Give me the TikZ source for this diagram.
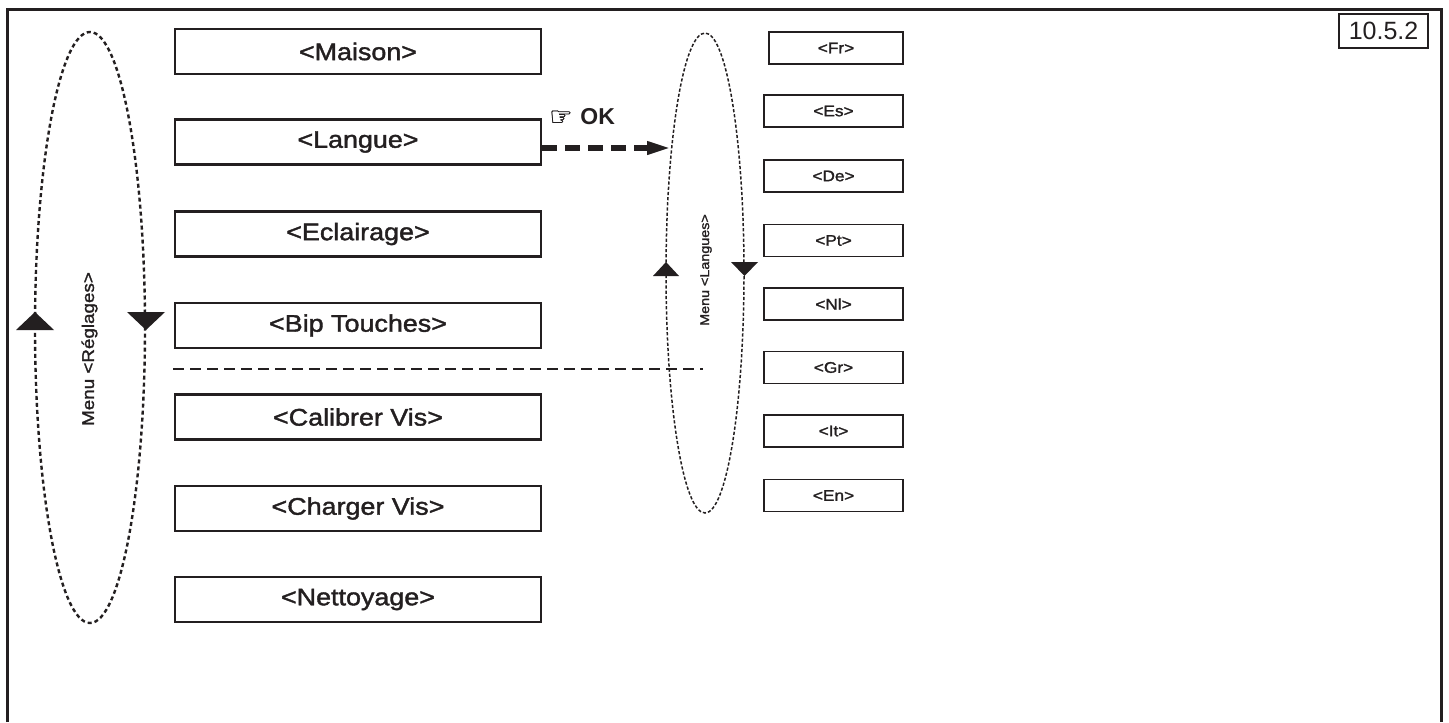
\documentclass[tikz,border=0pt]{standalone}
\usepackage{fontspec}
\setmainfont{Liberation Sans}[FakeStretch=1.12,FakeBold=1.6]
\newfontfamily\plainfont{Liberation Sans}
\newfontfamily\symfont{DejaVu Sans}[FakeBold=1]
\usetikzlibrary{shapes.geometric,arrows.meta}
\definecolor{ink}{HTML}{231F20}
\begin{document}
\begin{tikzpicture}[x=0.5pt,y=-0.5pt,
  every node/.style={text=ink},
  menubox/.style={draw=ink, line width=1.15pt, minimum width=183pt, minimum height=22.5pt, inner sep=0pt, font=\fontsize{12}{14}\selectfont},
  langbox/.style={draw=ink, line width=0.8pt, minimum width=69.5pt, minimum height=16pt, inner sep=0pt, font=\fontsize{7.7}{9}\selectfont},
  bigloop/.style={draw=ink, ellipse, line width=1.2pt, dash pattern=on 2pt off 1.5pt, inner sep=0pt},
  smallloop/.style={draw=ink, ellipse, line width=0.75pt, dash pattern=on 1.6pt off 1pt, inner sep=0pt},
  sepline/.style={draw=ink, line width=1pt, dash pattern=on 5.5pt off 3pt},
  okarrow/.style={draw=ink, line width=3pt, dash pattern=on 7.5pt off 4pt, -{Triangle[length=12.5pt,width=6pt]}}
]
\useasboundingbox (0,0) rectangle (1449,722);
\fill[white] (0,0) rectangle (1449,722);
% frame
\draw[ink, line width=1.5pt] (7.5,722) -- (7.5,10) -- (1441,10) -- (1441,722);

% left menu loop
\node[bigloop, minimum width=55pt, minimum height=295.5pt] (reglages) at (90,327.5) {};
\fill[ink] (16,330) -- (54,330) -- (35,312) -- cycle;
\fill[ink] (127,312) -- (165,312) -- (146,330) -- cycle;
\node[rotate=90, font=\fontsize{8.4}{10}\selectfont] (lblreg) at (89.5,349) {Menu <Réglages>};

% menu boxes
\node[menubox] (maison)   at (358,51.5)  {<Maison>};
\node[menubox] (langue)   at (358,142)   {<Langue>};
\node[menubox] (eclair)   at (358,234)   {<Eclairage>};
\node[menubox] (bip)      at (358,325.5) {<Bip Touches>};
\node[menubox] (calib)    at (358,417)   {<Calibrer Vis>};
\node[menubox] (charger)  at (358,508.5) {<Charger Vis>};
\node[menubox] (nettoy)   at (358,599.5) {<Nettoyage>};

% separator
\coordinate (sepa) at (173,369);
\coordinate (sepb) at (703,369);
\draw[sepline] (sepa) -- (sepb);

% right menu loop
\node[smallloop, minimum width=39pt, minimum height=240pt] (langues) at (705,273) {};
\fill[ink] (653,276) -- (679,276) -- (666,262) -- cycle;
\fill[ink] (731,262) -- (758,262) -- (744.5,276) -- cycle;
\node[rotate=90, font=\fontsize{6.4}{8}\selectfont] (lbllang) at (706,270) {Menu <Langues>};

% OK arrow
\coordinate (okend) at (672,148);
\draw[okarrow] (langue.east |- okend) -- (okend);
\node[font=\symfont\fontsize{13}{15}\selectfont, inner sep=0pt] (hand) at (561,118) {☞};
\node[anchor=base west, font=\plainfont\bfseries\fontsize{11.5}{14}\selectfont, inner sep=0pt] (ok) at (580,125) {OK};

% language boxes
\node[langbox, minimum width=67pt] (fr) at (836,48) {<Fr>};
\node[langbox] (es) at (833.5,111)   {<Es>};
\node[langbox] (de) at (833.5,176)   {<De>};
\node[langbox] (pt) at (833.5,240.5) {<Pt>};
\node[langbox] (nl) at (833.5,304)   {<Nl>};
\node[langbox] (gr) at (833.5,367.5) {<Gr>};
\node[langbox] (it) at (833.5,431)   {<It>};
\node[langbox] (en) at (833.5,495.5) {<En>};

% version tag
\node[draw=ink, line width=1pt, minimum width=44.5pt, minimum height=17pt, inner sep=0pt, font=\plainfont\fontsize{12.5}{15}\selectfont] (ver) at (1383.5,31) {10.5.2};
\end{tikzpicture}
\end{document}
